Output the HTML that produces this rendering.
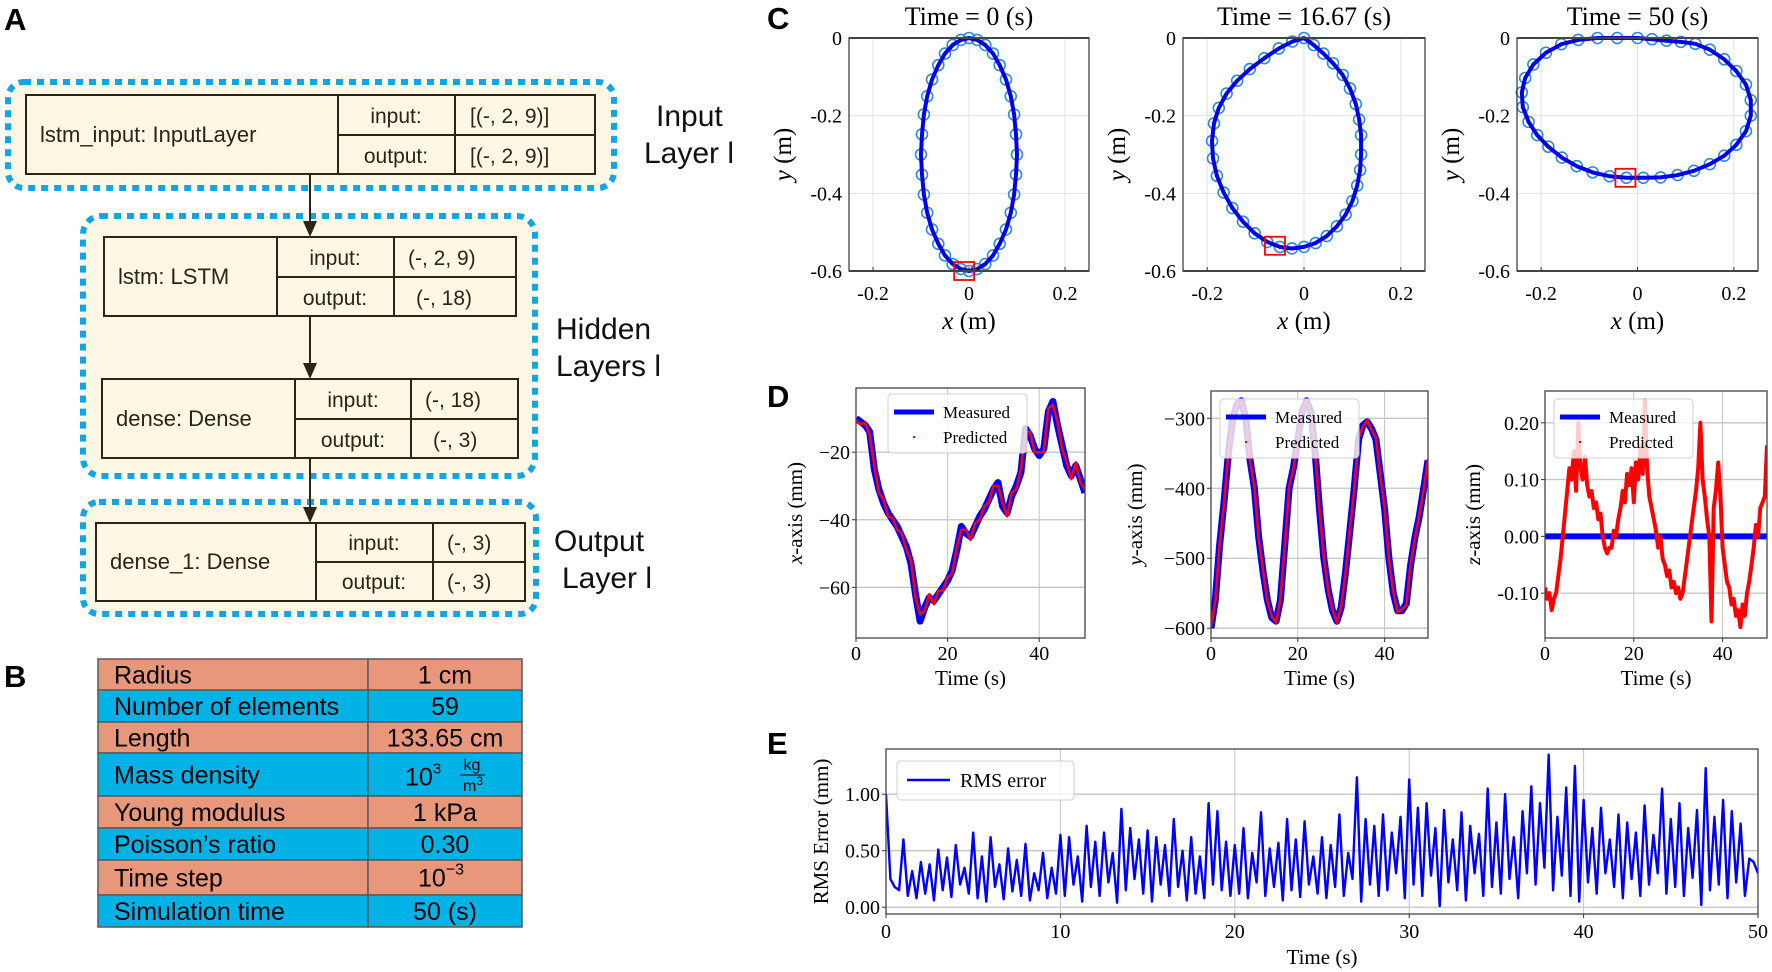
<!DOCTYPE html>
<html><head><meta charset="utf-8"><style>
html,body{margin:0;padding:0;background:#fff;}
svg{display:block;}
.sans{font-family:"Liberation Sans",sans-serif;}
.serif{font-family:"Liberation Serif",serif;}
</style></head><body>
<svg id="fig" width="1772" height="972" viewBox="0 0 1772 972" xmlns="http://www.w3.org/2000/svg">
<!-- Panel A -->
<g class="sans" fill="#2b2515">
<text x="4" y="30" font-size="31" font-weight="bold" fill="#000">A</text>
<rect x="8" y="82" width="606" height="106" rx="16" fill="#fdf8e6" stroke="#12a5e3" stroke-width="6" stroke-dasharray="7 6"/>
<rect x="83" y="216" width="452" height="260" rx="18" fill="#fdf8e6" stroke="#12a5e3" stroke-width="6" stroke-dasharray="7 6"/>
<rect x="83" y="502" width="453" height="112" rx="16" fill="#fdf8e6" stroke="#12a5e3" stroke-width="6" stroke-dasharray="7 6"/>
<g stroke="#2b2515" stroke-width="2" fill="none">
<line x1="310" y1="174" x2="310" y2="225"/>
<line x1="310" y1="316" x2="310" y2="367"/>
<line x1="310" y1="458" x2="310" y2="511"/>
</g>
<g fill="#2b2515" stroke="none">
<polygon points="303,221 317,221 310,237"/>
<polygon points="303,363 317,363 310,379"/>
<polygon points="303,507 317,507 310,523"/>
</g>
<g>
<rect x="26" y="95" width="569" height="79" fill="#fdf8e4" stroke="#2b2515" stroke-width="2"/>
<path d="M338,95V174M455,95V174M338,135H595" stroke="#2b2515" stroke-width="2"/>
<text x="40" y="142" font-size="22">lstm_input: InputLayer</text>
<text x="396" y="123" font-size="21" text-anchor="middle">input:</text>
<text x="396" y="163" font-size="21" text-anchor="middle">output:</text>
<text x="470" y="123" font-size="21">[(-, 2, 9)]</text>
<text x="470" y="163" font-size="21">[(-, 2, 9)]</text>
</g>
<g>
<rect x="104" y="237" width="412" height="79" fill="#fdf8e4" stroke="#2b2515" stroke-width="2"/>
<path d="M277,237V316M394,237V316M277,277H516" stroke="#2b2515" stroke-width="2"/>
<text x="118" y="284" font-size="22">lstm: LSTM</text>
<text x="335" y="265" font-size="21" text-anchor="middle">input:</text>
<text x="335" y="305" font-size="21" text-anchor="middle">output:</text>
<text x="408" y="265" font-size="21">(-, 2, 9)</text>
<text x="416" y="305" font-size="21">(-, 18)</text>
</g>
<g>
<rect x="102" y="379" width="416" height="79" fill="#fdf8e4" stroke="#2b2515" stroke-width="2"/>
<path d="M295,379V458M411,379V458M295,419H518" stroke="#2b2515" stroke-width="2"/>
<text x="116" y="426" font-size="22">dense: Dense</text>
<text x="353" y="407" font-size="21" text-anchor="middle">input:</text>
<text x="353" y="447" font-size="21" text-anchor="middle">output:</text>
<text x="425" y="407" font-size="21">(-, 18)</text>
<text x="433" y="447" font-size="21">(-, 3)</text>
</g>
<g>
<rect x="96" y="523" width="429" height="78" fill="#fdf8e4" stroke="#2b2515" stroke-width="2"/>
<path d="M316,523V601M433,523V601M316,562H525" stroke="#2b2515" stroke-width="2"/>
<text x="110" y="569" font-size="22">dense_1: Dense</text>
<text x="374" y="550" font-size="21" text-anchor="middle">input:</text>
<text x="374" y="589" font-size="21" text-anchor="middle">output:</text>
<text x="447" y="550" font-size="21">(-, 3)</text>
<text x="447" y="589" font-size="21">(-, 3)</text>
</g>
<g fill="#111" font-size="30">
<text x="656" y="126"><tspan x="656">Input</tspan><tspan x="644" dy="37">Layer l</tspan></text>
<text x="556" y="339"><tspan x="556">Hidden</tspan><tspan x="556" dy="37">Layers l</tspan></text>
<text x="554" y="551"><tspan x="554">Output</tspan><tspan x="562" dy="37">Layer l</tspan></text>
</g>
</g>
<!-- Panel B -->
<g class="sans">
<text x="4" y="687" font-size="31" font-weight="bold" fill="#000">B</text>
<g id="tableB"></g>
</g>
<g id="charts"></g>
</svg>
<script>
// ---------- Panel B data ----------
const paramNames = ["Radius","Number of elements","Length","Mass density","Young modulus","Poisson\u2019s ratio","Time step","Simulation time"];
const paramValues = ["1 cm","59","133.65 cm","MASS","1 kPa","0.30","STEP","50 (s)"];
const rowEdges = [659,690,722,753,796,828,860,895,927];

// ---------- Panel C data (units of 0.01 m) ----------
const shapeTitles = ["Time = 0 (s)","Time = 16.67 (s)","Time = 50 (s)"];
const s1x = [0,1.7,3.4,5,6.4,7.7,8.7,9.4,9.8,10,9.8,9.4,8.7,7.7,6.4,5,3.4,1.7,0,-1.7,-3.4,-5,-6.4,-7.7,-8.7,-9.4,-9.8,-10,-9.8,-9.4,-8.7,-7.7,-6.4,-5,-3.4,-1.7];
const s1y = [0,-0.5,-1.8,-4,-7,-10.7,-15,-19.7,-24.8,-30,-35.2,-40.3,-45,-49.3,-53,-56,-58.2,-59.5,-60,-59.5,-58.2,-56,-53,-49.3,-45,-40.3,-35.2,-30,-24.8,-19.7,-15,-10.7,-7,-4,-1.8,-0.5];
const s2x = [0,2,4,6,8,9.5,10.7,11.4,11.8,11.8,11.6,11,10,8.6,6.8,4.7,2.4,0,-2.5,-5,-7.6,-10.2,-12.6,-14.8,-16.6,-18,-18.8,-19,-18.6,-17.6,-16,-13.8,-11.2,-8.2,-5.2,-2.4];
const s2y = [0,-1.8,-4,-6.5,-9.5,-13,-17,-21,-25,-30,-34,-38,-42,-45.5,-48.5,-51,-52.8,-53.8,-54.2,-53.8,-52.5,-50.3,-47.3,-43.8,-39.8,-35.5,-31,-26.5,-22,-18,-14.3,-11,-8,-5.2,-2.7,-0.9];
const s3x = [0,3,6,9,12,15,18,20.5,22.5,23.5,23.5,22.5,20.5,18,15,11.7,8.3,4.8,1.2,-2.3,-5.8,-9.3,-12.6,-15.7,-18.5,-20.8,-22.6,-23.8,-24,-23.3,-21.6,-19,-15.8,-12.3,-8.3,-4.2];
const s3y = [0,-0.3,-0.7,-1,-1.5,-3,-5.5,-8.5,-12,-16,-20,-24,-27.5,-30.3,-32.5,-34.2,-35.3,-35.9,-36,-36,-35.6,-34.6,-33,-30.8,-28,-25,-21.6,-17.8,-14,-10.3,-6.8,-3.8,-1.6,-0.5,0,0];
const tipX = [-1,-6,-2.5];
const tipY = [-60,-53.5,-36];
const cXTicks = [-0.2,0,0.2];
const cXTickLabels = ["-0.2","0","0.2"];
const cYTicks = [0,-0.2,-0.4,-0.6];
const cYTickLabels = ["0","-0.2","-0.4","-0.6"];

// ---------- Panel D data ----------
const dDt = 1;
const dxMeas = [-10,-11,-12,-14,-25,-31,-35,-38,-40,-42,-45,-48,-53,-62,-70,-66,-63,-64,-62,-60,-58,-55,-49,-42,-44,-45,-42,-39,-37,-34,-31,-29,-36,-38,-33,-30,-26,-13,-15,-19,-21,-19,-8,-5,-12,-18,-24,-27,-24,-28,-32];
const dxPred = [-10.5,-11.8,-11.2,-15,-24,-32,-34,-39,-39.5,-43,-44,-49,-52,-63,-68,-67,-62,-65,-61,-61,-57,-56,-48,-43,-43,-46,-41,-40,-36,-35,-30,-30,-35,-39,-32,-31,-25,-14,-14,-20,-20,-20,-7,-6,-11,-19,-23,-28,-23,-29,-31];
const dyMeas = [-600,-560,-480,-420,-350,-300,-280,-275,-300,-360,-400,-470,-520,-560,-585,-590,-560,-480,-400,-370,-330,-290,-275,-290,-350,-430,-500,-545,-575,-590,-570,-520,-460,-400,-330,-310,-305,-315,-330,-380,-430,-500,-550,-575,-575,-565,-510,-470,-440,-400,-360];
const dyPred = [-598,-562,-478,-423,-348,-302,-279,-277,-298,-362,-398,-472,-518,-562,-583,-592,-558,-482,-398,-372,-328,-292,-273,-292,-348,-432,-498,-547,-573,-592,-568,-522,-458,-402,-328,-312,-303,-317,-328,-382,-428,-502,-548,-577,-573,-567,-508,-472,-438,-402,-358];
const dzMeas = [0,0,0,0,0,0,0,0,0,0,0,0,0,0,0,0,0,0,0,0,0,0,0,0,0,0,0,0,0,0,0,0,0,0,0,0,0,0,0,0,0,0,0,0,0,0,0,0,0,0,0];
const dzPred = [-0.09,-0.11,-0.10,-0.13,-0.11,-0.10,-0.07,-0.04,0.00,0.04,
0.08,0.12,0.10,0.15,0.08,0.20,0.12,0.10,0.14,0.09,
0.07,0.08,0.05,0.06,0.03,0.04,0.00,-0.02,-0.03,-0.02,
-0.02,0.01,0.00,0.03,0.05,0.08,0.06,0.11,0.09,0.12,
0.06,0.13,0.10,0.16,0.11,0.24,0.12,0.07,0.05,0.03,
0.01,-0.02,0.00,-0.04,-0.05,-0.07,-0.06,-0.09,-0.08,-0.10,
-0.09,-0.11,-0.10,-0.07,-0.04,-0.01,0.02,0.05,0.08,0.12,
0.20,0.10,0.07,0.03,0.00,-0.15,0.05,0.08,0.13,0.07,
-0.02,-0.05,-0.08,-0.09,-0.12,-0.11,-0.14,-0.13,-0.16,-0.12,
-0.14,-0.10,-0.08,-0.05,-0.02,0.02,0.00,0.05,0.06,0.07,0.16];
const dzDt = 0.5;
const dXTicks = [0,20,40];
const dYTicks1 = [-20,-40,-60];
const dYTickLabels1 = ["\u221220","\u221240","\u221260"];
const dYTicks2 = [-300,-400,-500,-600];
const dYTickLabels2 = ["\u2212300","\u2212400","\u2212500","\u2212600"];
const dYTicks3 = [0.2,0.1,0,-0.1];
const dYTickLabels3 = ["0.20","0.10","0.00","-0.10"];

// ---------- Panel E data ----------
const eDt = 0.25;
const rmsError = [1.00,0.25,0.18,0.15,0.60,0.10,0.32,0.08,0.40,0.12,0.38,0.06,0.51,0.15,0.44,0.09,0.55,0.20,0.35,0.12,
0.66,0.08,0.45,0.05,0.62,0.18,0.38,0.07,0.52,0.14,0.42,0.10,0.56,0.06,0.30,0.15,0.48,0.08,0.35,0.12,
0.64,0.10,0.62,0.20,0.45,0.05,0.72,0.18,0.58,0.10,0.66,0.22,0.48,0.04,0.87,0.15,0.70,0.25,0.60,0.12,
0.68,0.05,0.62,0.20,0.55,0.10,0.78,0.18,0.50,0.06,0.62,0.12,0.45,0.08,0.92,0.20,0.85,0.15,0.58,0.10,
0.55,0.12,0.70,0.08,0.48,0.22,0.84,0.10,0.52,0.18,0.57,0.06,0.78,0.15,0.60,0.09,0.76,0.20,0.45,0.12,
0.62,0.08,0.55,0.18,0.82,0.10,0.48,0.25,1.15,0.05,0.78,0.20,0.72,0.10,0.82,0.15,0.66,0.30,0.80,0.08,
1.13,0.20,0.88,0.10,0.92,0.28,0.70,0.01,0.86,0.22,0.60,0.15,0.84,0.06,0.72,0.30,0.65,0.10,1.05,0.18,
0.75,0.12,1.00,0.25,0.62,0.08,0.85,0.30,1.07,0.20,0.92,0.35,1.35,0.15,0.80,0.28,1.06,0.10,1.25,0.05,
0.95,0.22,0.70,0.12,0.88,0.30,0.60,0.18,0.82,0.08,0.75,0.25,0.66,0.10,0.90,0.20,0.64,0.30,1.05,0.12,
0.78,0.18,0.92,0.10,0.70,0.26,0.86,0.02,1.23,0.15,0.80,0.20,0.95,0.08,0.85,0.22,0.74,0.10,0.43,0.40,0.30];
const eXTicks = [0,10,20,30,40,50];
const eYTicks = [0,0.5,1.0];
const eYTickLabels = ["0.00","0.50","1.00"];

// ---------- helpers ----------
const NS = "http://www.w3.org/2000/svg";
function mk(tag, attrs, parent){
  const el = document.createElementNS(NS, tag);
  for (const k in attrs) el.setAttribute(k, attrs[k]);
  (parent || document.getElementById('charts')).appendChild(el);
  return el;
}
function scale(d0,d1,p0,p1){ return v => p0 + (v-d0)*(p1-p0)/(d1-d0); }

// ---------- Panel B ----------
(function(){
  const g = document.getElementById('tableB');
  for (let i=0;i<paramNames.length;i++){
    const y0 = rowEdges[i], y1 = rowEdges[i+1];
    const col = i%2===0 ? "#e8977b" : "#00b2e6";
    const r = mk('g',{},g);
    
    
    mk('rect',{x:98,y:y0,width:270,height:y1-y0,fill:col,stroke:"#5a5a5a","stroke-width":1.5},r);
    mk('rect',{x:368,y:y0,width:154,height:y1-y0,fill:col,stroke:"#5a5a5a","stroke-width":1.5},r);
    const cy = (y0+y1)/2 + 9;
    const t = mk('text',{x:114,y:cy,"font-size":25,fill:"#000"},r);
    t.textContent = paramNames[i];
    
    
    const v = paramValues[i];
    let tv;
    if (v==="MASS"){
      tv = mk('text',{x:405,y:cy+2,"font-size":25,fill:"#000"},r);
      tv.innerHTML = '10<tspan font-size="15" dy="-12">3</tspan>';
      const a = mk('text',{x:472,y:y0+17,"font-size":16,fill:"#000","text-anchor":"middle"},r); a.textContent="kg";
      mk('line',{x1:460,y1:y0+22,x2:485,y2:y0+22,stroke:"#000","stroke-width":1},r);
      const b = mk('text',{x:473,y:y0+38,"font-size":16,fill:"#000","text-anchor":"middle"},r); b.innerHTML='m<tspan font-size="12" dy="-6">3</tspan>';
    } else if (v==="STEP"){
      tv = mk('text',{x:418,y:cy,"font-size":25,fill:"#000"},r);
      tv.innerHTML = '10<tspan font-size="16" dy="-12">\u22123</tspan>';
    } else {
      tv = mk('text',{x:445,y:cy,"font-size":25,fill:"#000","text-anchor":"middle"},r);
      tv.textContent = v;
    }
    
    
  }
})();

// ---------- Panel labels ----------
(function(){
  const labs = [["C",767,29],["D",767,407],["E",767,754]];
  for (const l of labs){
    const t = mk('text',{x:l[1],y:l[2],"font-size":31,"font-weight":"bold","font-family":"Liberation Sans, sans-serif"});
    t.textContent = l[0];
    
    
  }
})();

// ---------- Panel C ----------
(function(){
  const boxes = [[849,1089],[1183,1425],[1517,1758]];
  const shapesX = [s1x,s2x,s3x], shapesY = [s1y,s2y,s3y];
  const top=38, bot=271;
  for (let p=0;p<3;p++){
    const L=boxes[p][0], R=boxes[p][1];
    const sx = scale(-0.25,0.25,L,R), sy = scale(0,-0.6,top,bot);
    const g = mk('g',{"font-family":"Liberation Serif, serif"});
    
    
    for (let i=0;i<cXTicks.length;i++){
      const x=sx(cXTicks[i]);
      mk('line',{x1:x,y1:top,x2:x,y2:bot,stroke:"#e2e2e2","stroke-width":1},g);
      mk('line',{x1:x,y1:bot,x2:x,y2:bot-4,stroke:"#333","stroke-width":1},g);
      const t=mk('text',{x:x,y:300,"font-size":20,"text-anchor":"middle"},g); t.textContent=cXTickLabels[i];
      
      
    }
    for (let i=0;i<cYTicks.length;i++){
      const y=sy(cYTicks[i]);
      mk('line',{x1:L,y1:y,x2:R,y2:y,stroke:"#e2e2e2","stroke-width":1},g);
      const t=mk('text',{x:L-7,y:y+7,"font-size":20,"text-anchor":"end"},g); t.textContent=cYTickLabels[i];
      
      
    }
    const xs = shapesX[p], ys = shapesY[p];
    let d="";
    for (let i=0;i<xs.length;i++){
      const c=mk('circle',{cx:sx(xs[i]/100),cy:sy(ys[i]/100),r:5.5,fill:"none",stroke:"#2e8ad6","stroke-width":1.6},g);
      
      
      d += (i?"L":"M")+sx(xs[i]/100).toFixed(1)+","+sy(ys[i]/100).toFixed(1);
    }
    const ln=mk('path',{d:d+"Z",fill:"none",stroke:"#0000e6","stroke-width":4,"stroke-linejoin":"round"},g);
    
    
    const sq=mk('rect',{x:sx(tipX[p]/100)-10,y:sy(tipY[p]/100)-9,width:20,height:18,fill:"none",stroke:"#ff0000","stroke-width":1.8},g);
    
    
    const fr=mk('rect',{x:L,y:top,width:R-L,height:bot-top,fill:"none",stroke:"#333","stroke-width":1.2},g);
    
    
    mk('line',{x1:L,y1:top,x2:R,y2:top,stroke:"#444","stroke-width":2},g);
    mk('line',{x1:L,y1:bot,x2:R,y2:bot,stroke:"#444","stroke-width":2},g);
    const tt=mk('text',{x:(L+R)/2,y:25,"font-size":26,"text-anchor":"middle"},g); tt.textContent=shapeTitles[p];
    
    
    const xl=mk('text',{x:(L+R)/2,y:329,"font-size":25,"text-anchor":"middle"},g);
    xl.innerHTML='<tspan font-style="italic">x</tspan> (m)';
    
    
    const yl=mk('text',{x:0,y:0,"font-size":25,"text-anchor":"middle",transform:`translate(${L-58},${(top+bot)/2}) rotate(-90)`},g);
    yl.innerHTML='<tspan font-style="italic">y</tspan> (m)';
    
    
  }
})();

// ---------- line plot generic ----------
function linePlot(cfg){
  const {L,R,T,B,xd,yd,xticks,yticks,ylabels,name} = cfg;
  const sx=scale(xd[0],xd[1],L,R), sy=scale(yd[0],yd[1],B,T);
  const g=mk('g',{"font-family":"Liberation Serif, serif"});
  
  
  const cid='clip-'+name;
  const cp=mk('clipPath',{id:cid},g); mk('rect',{x:L,y:T,width:R-L,height:B-T},cp);
  for (let i=0;i<xticks.length;i++){
    const x=sx(xticks[i]);
    mk('line',{x1:x,y1:T,x2:x,y2:B,stroke:"#c4c4c4","stroke-width":1},g);
    mk('line',{x1:x,y1:B,x2:x,y2:B+4,stroke:"#333","stroke-width":1},g);
    const t=mk('text',{x:x,y:B+cfg.tickDy,"font-size":cfg.fs,"text-anchor":"middle"},g); t.textContent=String(xticks[i]);
    
    
  }
  for (let i=0;i<yticks.length;i++){
    const y=sy(yticks[i]);
    mk('line',{x1:L,y1:y,x2:R,y2:y,stroke:"#c4c4c4","stroke-width":1.3},g);
    mk('line',{x1:L,y1:y,x2:L-4,y2:y,stroke:"#333","stroke-width":1},g);
    const t=mk('text',{x:L-6,y:y+7,"font-size":cfg.fs,"text-anchor":"end"},g); t.textContent=ylabels[i];
    
    
  }
  const series=mk('g',{"clip-path":`url(#${cid})`},g);
  for (const s of cfg.series){
    let d="";
    for (let i=0;i<s.v.length;i++){ d+=(i?"L":"M")+sx(i*s.dt).toFixed(1)+","+sy(s.v[i]).toFixed(1); }
    const p=mk('path',{d:d,fill:"none",stroke:s.c,"stroke-width":s.w,"stroke-linejoin":"round"},series);
    
    
  }
  const fr=mk('rect',{x:L,y:T,width:R-L,height:B-T,fill:"none",stroke:"#444","stroke-width":1.3},g);
  
  
  const xl=mk('text',{x:(L+R)/2,y:B+cfg.xlDy,"font-size":cfg.fs+1,"text-anchor":"middle"},g); xl.textContent="Time (s)";
  
  
  const yl=mk('text',{x:0,y:0,"font-size":cfg.fs+1,"text-anchor":"middle",transform:`translate(${cfg.ylx},${(T+B)/2}) rotate(-90)`},g);
  yl.innerHTML=cfg.ylabel;
  
  
  return g;
}
function legendD(g,x,y){
  const lg=mk('g',{},g);
  
  
  mk('rect',{x:x,y:y,width:139,height:59,rx:4,fill:"#fff","fill-opacity":0.8,stroke:"#d0d0d0","stroke-width":1},lg);
  mk('line',{x1:x+6,y1:y+18,x2:x+46,y2:y+18,stroke:"#0000ff","stroke-width":5},lg);
  const a=mk('text',{x:x+55,y:y+24,"font-size":17},lg); a.textContent="Measured";
  
  
  mk('rect',{x:x+25,y:y+42,width:2,height:2,fill:"#ff0000"},lg);
  const b=mk('text',{x:x+55,y:y+49,"font-size":17},lg); b.textContent="Predicted";
  
  
}
(function(){
  const common={T:0,B:638,tickDy:22,xlDy:47,fs:20,xd:[0,50],xticks:dXTicks};
  const g1=linePlot(Object.assign({},common,{name:"x-axis-plot",L:856,R:1085,T:388,yd:[-75,-1],yticks:dYTicks1,ylabels:dYTickLabels1,ylx:802,
    ylabel:'<tspan font-style="italic">x</tspan>-axis (mm)',
    series:[{v:dxMeas,dt:dDt,c:"#0000ff",w:7,n:"measured-x-line"},{v:dxPred,dt:dDt,c:"#ff0000",w:2.5,n:"predicted-x-line"}]}));
  legendD(g1,888,394);
  const g2=linePlot(Object.assign({},common,{name:"y-axis-plot",L:1211,R:1428,T:391,yd:[-614,-261],yticks:dYTicks2,ylabels:dYTickLabels2,ylx:1142,
    ylabel:'<tspan font-style="italic">y</tspan>-axis (mm)',
    series:[{v:dyMeas,dt:dDt,c:"#0000ff",w:7,n:"measured-y-line"},{v:dyPred,dt:dDt,c:"#ff0000",w:2.5,n:"predicted-y-line"}]}));
  legendD(g2,1220,399);
  const g3=linePlot(Object.assign({},common,{name:"z-axis-plot",L:1545,R:1767,T:391,yd:[-0.179,0.256],yticks:dYTicks3,ylabels:dYTickLabels3,ylx:1480,
    ylabel:'<tspan font-style="italic">z</tspan>-axis (mm)',
    series:[{v:dzMeas,dt:dDt,c:"#0000ff",w:6,n:"measured-z-line"},{v:dzPred,dt:dzDt,c:"#ff0000",w:4,n:"predicted-z-line"}]}));
  legendD(g3,1554,399);
  const gE=linePlot({name:"rms-error-plot",L:886,R:1758,T:749,B:914,xd:[0,50],yd:[-0.06,1.40],xticks:eXTicks,yticks:eYTicks,ylabels:eYTickLabels,
    tickDy:24,xlDy:50,fs:20,ylx:828,ylabel:'RMS Error (mm)',
    series:[{v:rmsError,dt:eDt,c:"#0000ff",w:2.4,n:"rms-error-line"}]});
  const lg=mk('g',{},gE);
  
  
  mk('rect',{x:897,y:761,width:177,height:39,rx:4,fill:"#fff","fill-opacity":0.8,stroke:"#d0d0d0","stroke-width":1},lg);
  mk('line',{x1:907,y1:780,x2:950,y2:780,stroke:"#0000ff","stroke-width":2.5},lg);
  const t=mk('text',{x:960,y:787,"font-size":20},lg); t.textContent="RMS error";
  
  
})();
</script>
</body></html>
